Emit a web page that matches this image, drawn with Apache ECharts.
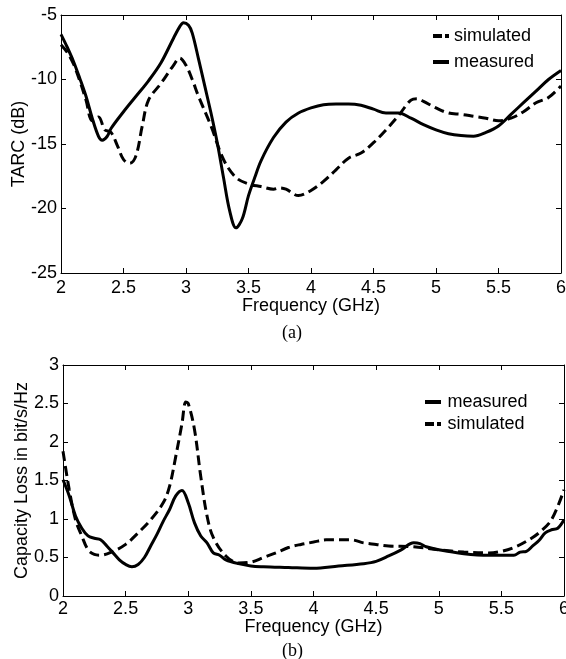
<!DOCTYPE html>
<html>
<head>
<meta charset="utf-8">
<script src="https://cdn.jsdelivr.net/npm/echarts@6/dist/echarts.min.js"></script>
<style>
html,body{margin:0;padding:0;background:#fff;}
#c{width:566px;height:659px;}
</style>
</head>
<body>
<div id="c"></div>
<script>
// ---- (a) TARC ----
var tarcMeasX = [2.0,2.05,2.1,2.15,2.2,2.25,2.3,2.33,2.37,2.4,2.5,2.6,2.7,2.8,2.9,2.95,2.98,3.02,3.05,3.1,3.15,3.2,3.25,3.3,3.35,3.4,3.45,3.5,3.55,3.6,3.7,3.8,3.9,4.0,4.1,4.2,4.3,4.4,4.5,4.6,4.7,4.8,4.9,5.0,5.1,5.2,5.3,5.4,5.5,5.6,5.7,5.8,5.9,6.0];
var tarcMeasY = [-6.5,-7.5,-8.6,-9.9,-11.3,-13.0,-14.4,-14.7,-14.4,-13.8,-12.5,-11.3,-10.1,-8.7,-6.8,-5.9,-5.6,-5.8,-6.4,-8.4,-10.5,-12.6,-14.9,-17.6,-20.2,-21.5,-20.8,-19.0,-17.6,-16.3,-14.5,-13.3,-12.6,-12.2,-11.95,-11.9,-11.9,-12.0,-12.3,-12.6,-12.6,-13.0,-13.5,-13.9,-14.2,-14.35,-14.4,-14.1,-13.6,-12.7,-11.8,-10.9,-10.0,-9.3];
var tarcSimX = [2.0,2.05,2.1,2.15,2.2,2.25,2.3,2.35,2.4,2.45,2.5,2.55,2.6,2.65,2.7,2.8,2.9,2.95,3.0,3.05,3.1,3.2,3.3,3.4,3.5,3.6,3.7,3.75,3.8,3.9,4.0,4.1,4.2,4.3,4.4,4.5,4.6,4.7,4.8,4.85,4.9,5.0,5.1,5.2,5.3,5.4,5.5,5.6,5.7,5.8,5.9,6.0];
var tarcSimY = [-7.3,-7.9,-8.8,-10.1,-11.6,-13.2,-12.9,-13.9,-14.1,-15.1,-16.2,-16.5,-15.9,-13.6,-11.6,-10.3,-8.9,-8.35,-8.9,-10.0,-11.3,-13.6,-16.2,-17.6,-18.1,-18.3,-18.5,-18.4,-18.5,-19.0,-18.6,-17.9,-17.0,-16.1,-15.7,-14.9,-13.9,-12.8,-11.6,-11.5,-11.7,-12.2,-12.6,-12.7,-12.85,-13.0,-13.2,-13.0,-12.5,-11.8,-11.4,-10.5];

// ---- (b) Capacity loss ----
var capMeasX = [2.0,2.05,2.1,2.15,2.2,2.25,2.3,2.35,2.4,2.45,2.5,2.55,2.6,2.65,2.7,2.75,2.8,2.85,2.9,2.95,3.0,3.05,3.1,3.15,3.2,3.25,3.3,3.4,3.5,3.6,3.8,4.0,4.2,4.4,4.5,4.6,4.7,4.8,4.85,4.9,5.0,5.2,5.4,5.6,5.65,5.7,5.75,5.8,5.85,5.9,5.95,6.0];
var capMeasY = [1.51,1.30,1.04,0.88,0.78,0.75,0.73,0.65,0.56,0.47,0.41,0.38,0.41,0.50,0.65,0.80,0.97,1.12,1.30,1.37,1.21,0.95,0.78,0.69,0.56,0.53,0.47,0.42,0.39,0.38,0.37,0.36,0.39,0.42,0.45,0.52,0.60,0.69,0.68,0.64,0.60,0.55,0.53,0.53,0.57,0.58,0.65,0.72,0.82,0.86,0.88,0.99];
var capSimX = [2.0,2.05,2.1,2.15,2.2,2.25,2.3,2.4,2.5,2.6,2.7,2.8,2.85,2.9,2.95,2.98,3.0,3.05,3.1,3.15,3.2,3.3,3.4,3.5,3.6,3.7,3.8,3.9,4.0,4.1,4.2,4.3,4.4,4.5,4.6,4.8,5.0,5.2,5.4,5.5,5.6,5.7,5.8,5.9,6.0];
var capSimY = [1.88,1.38,0.99,0.78,0.60,0.54,0.53,0.58,0.67,0.82,0.99,1.21,1.42,1.81,2.24,2.52,2.50,2.16,1.55,1.04,0.76,0.52,0.43,0.44,0.50,0.56,0.63,0.67,0.70,0.73,0.73,0.73,0.69,0.67,0.65,0.64,0.60,0.57,0.56,0.58,0.63,0.71,0.82,0.99,1.38];

var xTicks = {min: 2, max: 6, interval: 0.5};
var tarcTicks = {min: -25, max: -5, interval: 5};
var capTicks = {min: 0, max: 3, interval: 0.5};

function pairs(xs, ys){ return xs.map(function(x,i){ return [x, ys[i]]; }); }

var FONT = '"Liberation Sans", Arial, sans-serif';
var txt = {color:'#000', fontSize:18, fontFamily:FONT};
var dashT = [10,5];
var ICON_SOLID = 'path://M0,0h16v4h-16z';
var ICON_DASH = 'path://M0,0h9v4h-9zM12,0h4v4h-4z';

function xAxisPair(gi, margin, nameGap){
  return [
    {gridIndex:gi, type:'value', min:xTicks.min, max:xTicks.max, interval:xTicks.interval, position:'bottom',
     axisLine:{show:true, onZero:false, lineStyle:{color:'#000', width:1}},
     axisTick:{show:true, inside:true, length:5, lineStyle:{color:'#000'}},
     axisLabel:Object.assign({margin:margin, showMinLabel:true, showMaxLabel:true}, txt),
     splitLine:{show:false}, nameMoveOverlap:false,
     name:'Frequency (GHz)', nameLocation:'middle', nameGap:nameGap, nameTextStyle:txt},
    {gridIndex:gi, type:'value', min:xTicks.min, max:xTicks.max, interval:xTicks.interval, position:'top',
     axisLine:{show:true, onZero:false, lineStyle:{color:'#000', width:1}},
     axisTick:{show:true, inside:true, length:5, lineStyle:{color:'#000'}},
     axisLabel:{show:false}, splitLine:{show:false}}
  ];
}
function yAxisPair(gi, t, name, nameGap){
  return [
    {gridIndex:gi, type:'value', min:t.min, max:t.max, interval:t.interval, position:'left',
     axisLine:{show:true, onZero:false, lineStyle:{color:'#000', width:1}},
     axisTick:{show:true, inside:true, length:5, lineStyle:{color:'#000'}},
     axisLabel:Object.assign({margin:4, showMinLabel:true, showMaxLabel:true}, txt),
     splitLine:{show:false}, nameMoveOverlap:false,
     name:name, nameLocation:'middle', nameGap:nameGap, nameTextStyle:txt},
    {gridIndex:gi, type:'value', min:t.min, max:t.max, interval:t.interval, position:'right',
     axisLine:{show:true, onZero:false, lineStyle:{color:'#000', width:1}},
     axisTick:{show:true, inside:true, length:5, lineStyle:{color:'#000'}},
     axisLabel:{show:false}, splitLine:{show:false}}
  ];
}

function lineSeries(name, data, xi, yi, dashed){
  return {type:'line', name:name, data:data, xAxisIndex:xi, yAxisIndex:yi,
    symbol:'none', smooth:0.35, clip:true,
    lineStyle:{color:'#000', width:3, type: dashed ? dashT : 'solid'},
    itemStyle:{color:'#000'}};
}

var legendCommon = {orient:'vertical', itemWidth:16, itemHeight:4, padding:5,
  textStyle:txt, selectedMode:false, itemStyle:{color:'#000', borderWidth:0}};

var option = {
  animation:false,
  backgroundColor:'#fff',
  grid:[
    {left:61, right:5, top:15, height:258, containLabel:false, outerBoundsMode:'none'},
    {left:63, right:2, top:365, height:231, containLabel:false, outerBoundsMode:'none'}
  ],
  xAxis: xAxisPair(0, 6, 24).concat(xAxisPair(1, 4.5, 22)),
  yAxis: yAxisPair(0, tarcTicks, 'TARC (dB)', 33).concat(yAxisPair(1, capTicks, 'Capacity Loss in bit/s/Hz', 32)),
  legend:[
    Object.assign({}, legendCommon, {left:428, top:22, itemGap:8,
      data:[{name:'simulated', icon:ICON_DASH}, {name:'measured', icon:ICON_SOLID}]}),
    Object.assign({}, legendCommon, {left:420, top:388, itemGap:4, itemWidth:19,
      data:[{name:'measured', icon:ICON_SOLID}, {name:'simulated', icon:ICON_DASH}]})
  ],
  series:[
    lineSeries('simulated', pairs(tarcSimX, tarcSimY), 0, 0, true),
    lineSeries('measured', pairs(tarcMeasX, tarcMeasY), 0, 0, false),
    lineSeries('measured', pairs(capMeasX, capMeasY), 2, 2, false),
    lineSeries('simulated', pairs(capSimX, capSimY), 2, 2, true)
  ],
  graphic:[
    {type:'text', left:282, top:324, style:{text:'(a)', fill:'#000', font:'18px "Liberation Serif", "Times New Roman", serif'}},
    {type:'text', left:282, top:642, style:{text:'(b)', fill:'#000', font:'18px "Liberation Serif", "Times New Roman", serif'}}
  ]
};
var chart = echarts.init(document.getElementById('c'), null, {renderer:'canvas'});
chart.setOption(option);
</script>
</body>
</html>
